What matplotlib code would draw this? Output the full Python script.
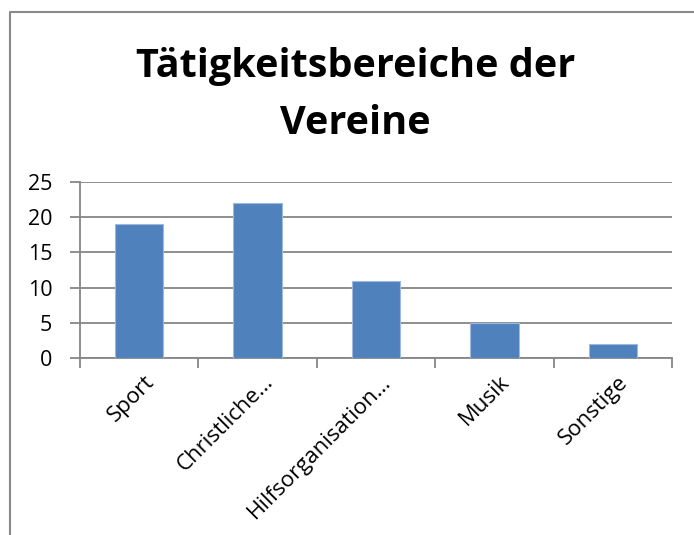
import matplotlib
matplotlib.use("Agg")
import matplotlib.pyplot as plt
from matplotlib.lines import Line2D
import numpy as np

categories = ["Sport", "Christliche…", "Hilfsorganisation…", "Musik", "Sonstige"]
values = [19, 22, 11, 5, 2]
y_ticks = [0, 5, 10, 15, 20, 25]

plt.rcParams['font.family'] = ['Open Sans', 'DejaVu Sans']

fig = plt.figure(figsize=(6.94, 5.35), dpi=100)
ax = fig.add_axes([80 / 694, 1 - 358 / 535, 592 / 694, 176 / 535])

x = np.arange(len(categories))
ax.bar(x, values, width=0.41, color='#4F81BD', edgecolor='#9DB9DD', linewidth=0.8, zorder=3)

ax.set_xlim(-0.5, len(categories) - 0.5)
ax.set_ylim(0, 25)
ax.set_yticks(y_ticks)
ax.set_yticklabels([str(v) for v in y_ticks], fontsize=15.5)
ax.yaxis.grid(True, color='#868686', linewidth=1.3, zorder=0)

# category boundary ticks
ax.set_xticks(np.arange(-0.5, len(categories)), minor=False)
ax.set_xticklabels([])
ax.tick_params(axis='x', length=7, color='#868686', width=1.3)
ax.tick_params(axis='y', length=7, color='#868686', width=1.3, pad=13)
for i, lab in enumerate(categories):
    ax.text(i + 0.04, -1.9, lab, rotation=45, ha='right', va='top',
            fontsize=16, rotation_mode='anchor')

for s in ['top', 'right']:
    ax.spines[s].set_visible(False)
for s in ['left', 'bottom']:
    ax.spines[s].set_color('#868686')
    ax.spines[s].set_linewidth(1.3)

fig.text(0.512, 1 - 66 / 535, "Tätigkeitsbereiche der", ha='center', va='center',
         fontsize=28.5, fontweight='bold')
fig.text(0.512, 1 - 124 / 535, "Vereine", ha='center', va='center',
         fontsize=28.5, fontweight='bold')

# chart frame (only left and top edges visible)
fig.add_artist(Line2D([10 / 694, 10 / 694, 1], [0, 1 - 12 / 535, 1 - 12 / 535],
                      transform=fig.transFigure, color='#8A8A8A', linewidth=1.5))

fig.savefig("out.png", dpi=100)
